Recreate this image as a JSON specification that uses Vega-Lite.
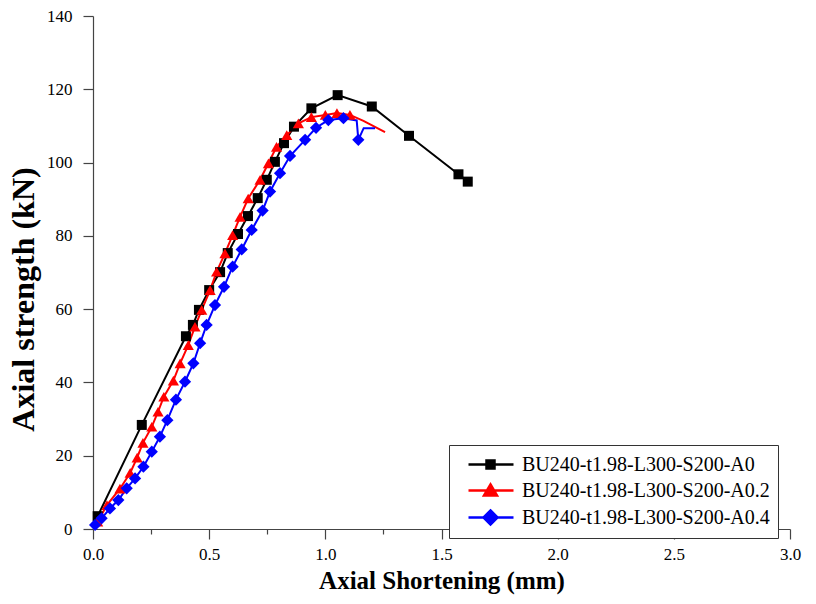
{
  "$schema": "https://vega.github.io/schema/vega-lite/v6.json",
  "width": 697,
  "height": 513,
  "autosize": "none",
  "padding": {"left": 93, "top": 16, "right": 26, "bottom": 75},
  "background": "white",
  "config": {"view": {"stroke": null}, "font": "Liberation Serif"},
  "data": {"values": [
    {"s": "BU240-t1.98-L300-S200-A0", "i": 0, "x": 0.02, "y": 3.5, "m": 1},
    {"s": "BU240-t1.98-L300-S200-A0", "i": 1, "x": 0.21, "y": 28.4, "m": 1},
    {"s": "BU240-t1.98-L300-S200-A0", "i": 2, "x": 0.40, "y": 52.6, "m": 1},
    {"s": "BU240-t1.98-L300-S200-A0", "i": 3, "x": 0.43, "y": 55.7, "m": 1},
    {"s": "BU240-t1.98-L300-S200-A0", "i": 4, "x": 0.456, "y": 59.8, "m": 1},
    {"s": "BU240-t1.98-L300-S200-A0", "i": 5, "x": 0.50, "y": 65.2, "m": 1},
    {"s": "BU240-t1.98-L300-S200-A0", "i": 6, "x": 0.547, "y": 70.1, "m": 1},
    {"s": "BU240-t1.98-L300-S200-A0", "i": 7, "x": 0.58, "y": 75.3, "m": 1},
    {"s": "BU240-t1.98-L300-S200-A0", "i": 8, "x": 0.624, "y": 80.5, "m": 1},
    {"s": "BU240-t1.98-L300-S200-A0", "i": 9, "x": 0.667, "y": 85.4, "m": 1},
    {"s": "BU240-t1.98-L300-S200-A0", "i": 10, "x": 0.709, "y": 90.3, "m": 1},
    {"s": "BU240-t1.98-L300-S200-A0", "i": 11, "x": 0.748, "y": 95.3, "m": 1},
    {"s": "BU240-t1.98-L300-S200-A0", "i": 12, "x": 0.783, "y": 100.2, "m": 1},
    {"s": "BU240-t1.98-L300-S200-A0", "i": 13, "x": 0.822, "y": 105.3, "m": 1},
    {"s": "BU240-t1.98-L300-S200-A0", "i": 14, "x": 0.865, "y": 109.8, "m": 1},
    {"s": "BU240-t1.98-L300-S200-A0", "i": 15, "x": 0.94, "y": 114.8, "m": 1},
    {"s": "BU240-t1.98-L300-S200-A0", "i": 16, "x": 1.053, "y": 118.4, "m": 1},
    {"s": "BU240-t1.98-L300-S200-A0", "i": 17, "x": 1.20, "y": 115.3, "m": 1},
    {"s": "BU240-t1.98-L300-S200-A0", "i": 18, "x": 1.36, "y": 107.3, "m": 1},
    {"s": "BU240-t1.98-L300-S200-A0", "i": 19, "x": 1.573, "y": 96.8, "m": 1},
    {"s": "BU240-t1.98-L300-S200-A0", "i": 20, "x": 1.613, "y": 94.8, "m": 1},

    {"s": "BU240-t1.98-L300-S200-A0.2", "i": 0, "x": 0.02, "y": 2.0, "m": 1},
    {"s": "BU240-t1.98-L300-S200-A0.2", "i": 1, "x": 0.06, "y": 6.5, "m": 1},
    {"s": "BU240-t1.98-L300-S200-A0.2", "i": 2, "x": 0.116, "y": 11.0, "m": 1},
    {"s": "BU240-t1.98-L300-S200-A0.2", "i": 3, "x": 0.16, "y": 15.3, "m": 1},
    {"s": "BU240-t1.98-L300-S200-A0.2", "i": 4, "x": 0.19, "y": 19.5, "m": 1},
    {"s": "BU240-t1.98-L300-S200-A0.2", "i": 5, "x": 0.215, "y": 23.5, "m": 1},
    {"s": "BU240-t1.98-L300-S200-A0.2", "i": 6, "x": 0.253, "y": 27.9, "m": 1},
    {"s": "BU240-t1.98-L300-S200-A0.2", "i": 7, "x": 0.28, "y": 32.0, "m": 1},
    {"s": "BU240-t1.98-L300-S200-A0.2", "i": 8, "x": 0.305, "y": 36.1, "m": 1},
    {"s": "BU240-t1.98-L300-S200-A0.2", "i": 9, "x": 0.346, "y": 40.5, "m": 1},
    {"s": "BU240-t1.98-L300-S200-A0.2", "i": 10, "x": 0.375, "y": 45.2, "m": 1},
    {"s": "BU240-t1.98-L300-S200-A0.2", "i": 11, "x": 0.41, "y": 50.2, "m": 1},
    {"s": "BU240-t1.98-L300-S200-A0.2", "i": 12, "x": 0.439, "y": 55.2, "m": 1},
    {"s": "BU240-t1.98-L300-S200-A0.2", "i": 13, "x": 0.468, "y": 59.8, "m": 1},
    {"s": "BU240-t1.98-L300-S200-A0.2", "i": 14, "x": 0.504, "y": 65.2, "m": 1},
    {"s": "BU240-t1.98-L300-S200-A0.2", "i": 15, "x": 0.532, "y": 70.2, "m": 1},
    {"s": "BU240-t1.98-L300-S200-A0.2", "i": 16, "x": 0.568, "y": 75.2, "m": 1},
    {"s": "BU240-t1.98-L300-S200-A0.2", "i": 17, "x": 0.601, "y": 80.2, "m": 1},
    {"s": "BU240-t1.98-L300-S200-A0.2", "i": 18, "x": 0.633, "y": 85.2, "m": 1},
    {"s": "BU240-t1.98-L300-S200-A0.2", "i": 19, "x": 0.668, "y": 90.2, "m": 1},
    {"s": "BU240-t1.98-L300-S200-A0.2", "i": 20, "x": 0.719, "y": 95.3, "m": 1},
    {"s": "BU240-t1.98-L300-S200-A0.2", "i": 21, "x": 0.755, "y": 99.8, "m": 1},
    {"s": "BU240-t1.98-L300-S200-A0.2", "i": 22, "x": 0.79, "y": 104.3, "m": 1},
    {"s": "BU240-t1.98-L300-S200-A0.2", "i": 23, "x": 0.834, "y": 107.5, "m": 1},
    {"s": "BU240-t1.98-L300-S200-A0.2", "i": 24, "x": 0.884, "y": 110.7, "m": 1},
    {"s": "BU240-t1.98-L300-S200-A0.2", "i": 25, "x": 0.94, "y": 112.4, "m": 1},
    {"s": "BU240-t1.98-L300-S200-A0.2", "i": 26, "x": 1.0, "y": 113.0, "m": 1},
    {"s": "BU240-t1.98-L300-S200-A0.2", "i": 27, "x": 1.05, "y": 113.5, "m": 1},
    {"s": "BU240-t1.98-L300-S200-A0.2", "i": 28, "x": 1.106, "y": 113.0, "m": 1},
    {"s": "BU240-t1.98-L300-S200-A0.2", "i": 29, "x": 1.164, "y": 111.4, "m": 0},
    {"s": "BU240-t1.98-L300-S200-A0.2", "i": 30, "x": 1.257, "y": 108.3, "m": 0},

    {"s": "BU240-t1.98-L300-S200-A0.4", "i": 0, "x": 0.009, "y": 1.1, "m": 1},
    {"s": "BU240-t1.98-L300-S200-A0.4", "i": 1, "x": 0.037, "y": 2.9, "m": 1},
    {"s": "BU240-t1.98-L300-S200-A0.4", "i": 2, "x": 0.073, "y": 5.6, "m": 1},
    {"s": "BU240-t1.98-L300-S200-A0.4", "i": 3, "x": 0.109, "y": 7.9, "m": 1},
    {"s": "BU240-t1.98-L300-S200-A0.4", "i": 4, "x": 0.145, "y": 11.1, "m": 1},
    {"s": "BU240-t1.98-L300-S200-A0.4", "i": 5, "x": 0.181, "y": 13.8, "m": 1},
    {"s": "BU240-t1.98-L300-S200-A0.4", "i": 6, "x": 0.217, "y": 17.0, "m": 1},
    {"s": "BU240-t1.98-L300-S200-A0.4", "i": 7, "x": 0.253, "y": 21.1, "m": 1},
    {"s": "BU240-t1.98-L300-S200-A0.4", "i": 8, "x": 0.288, "y": 25.2, "m": 1},
    {"s": "BU240-t1.98-L300-S200-A0.4", "i": 9, "x": 0.32, "y": 29.7, "m": 1},
    {"s": "BU240-t1.98-L300-S200-A0.4", "i": 10, "x": 0.357, "y": 35.3, "m": 1},
    {"s": "BU240-t1.98-L300-S200-A0.4", "i": 11, "x": 0.396, "y": 40.2, "m": 1},
    {"s": "BU240-t1.98-L300-S200-A0.4", "i": 12, "x": 0.432, "y": 45.2, "m": 1},
    {"s": "BU240-t1.98-L300-S200-A0.4", "i": 13, "x": 0.461, "y": 50.7, "m": 1},
    {"s": "BU240-t1.98-L300-S200-A0.4", "i": 14, "x": 0.489, "y": 55.7, "m": 1},
    {"s": "BU240-t1.98-L300-S200-A0.4", "i": 15, "x": 0.525, "y": 61.1, "m": 1},
    {"s": "BU240-t1.98-L300-S200-A0.4", "i": 16, "x": 0.564, "y": 66.1, "m": 1},
    {"s": "BU240-t1.98-L300-S200-A0.4", "i": 17, "x": 0.601, "y": 71.6, "m": 1},
    {"s": "BU240-t1.98-L300-S200-A0.4", "i": 18, "x": 0.64, "y": 76.3, "m": 1},
    {"s": "BU240-t1.98-L300-S200-A0.4", "i": 19, "x": 0.683, "y": 81.6, "m": 1},
    {"s": "BU240-t1.98-L300-S200-A0.4", "i": 20, "x": 0.73, "y": 86.9, "m": 1},
    {"s": "BU240-t1.98-L300-S200-A0.4", "i": 21, "x": 0.762, "y": 92.1, "m": 1},
    {"s": "BU240-t1.98-L300-S200-A0.4", "i": 22, "x": 0.805, "y": 97.1, "m": 1},
    {"s": "BU240-t1.98-L300-S200-A0.4", "i": 23, "x": 0.848, "y": 101.8, "m": 1},
    {"s": "BU240-t1.98-L300-S200-A0.4", "i": 24, "x": 0.913, "y": 106.2, "m": 1},
    {"s": "BU240-t1.98-L300-S200-A0.4", "i": 25, "x": 0.96, "y": 109.5, "m": 1},
    {"s": "BU240-t1.98-L300-S200-A0.4", "i": 26, "x": 1.013, "y": 111.6, "m": 1},
    {"s": "BU240-t1.98-L300-S200-A0.4", "i": 27, "x": 1.078, "y": 112.1, "m": 1},
    {"s": "BU240-t1.98-L300-S200-A0.4", "i": 28, "x": 1.135, "y": 111.5, "m": 0},
    {"s": "BU240-t1.98-L300-S200-A0.4", "i": 29, "x": 1.142, "y": 106.2, "m": 1},
    {"s": "BU240-t1.98-L300-S200-A0.4", "i": 30, "x": 1.165, "y": 109.4, "m": 0},
    {"s": "BU240-t1.98-L300-S200-A0.4", "i": 31, "x": 1.214, "y": 109.4, "m": 0}
  ]},
  "layer": [
    {
      "mark": {"type": "line", "strokeWidth": 2},
      "encoding": {
        "x": {
          "field": "x", "type": "quantitative",
          "scale": {"domain": [0, 3], "nice": false, "zero": false},
          "axis": {
            "values": [0, 0.25, 0.5, 0.75, 1, 1.25, 1.5, 1.75, 2, 2.25, 2.5, 2.75, 3],
            "labelExpr": "round(datum.value*4) % 2 == 0 ? format(datum.value, '.1f') : ''",
            "tickSize": {"condition": {"test": "round(datum.value*4) % 2 == 0", "value": 10}, "value": 5},
            "title": "Axial Shortening (mm)",
            "titleFont": "Liberation Serif", "titleFontSize": 25, "titleFontWeight": "bold", "titleColor": "black",
            "titlePadding": 6,
            "labelFont": "Liberation Serif", "labelFontSize": 17, "labelColor": "black", "labelPadding": 7,
            "labelFlush": false, "labelOverlap": false,
            "grid": false, "domainColor": "#444444", "tickColor": "#444444", "domainWidth": 1.2, "tickWidth": 1.2
          }
        },
        "y": {
          "field": "y", "type": "quantitative",
          "scale": {"domain": [0, 140], "nice": false},
          "axis": {
            "values": [0, 10, 20, 30, 40, 50, 60, 70, 80, 90, 100, 110, 120, 130, 140],
            "labelExpr": "datum.value % 20 == 0 ? datum.value : ''",
            "tickSize": {"condition": {"test": "datum.value % 20 == 0", "value": 10}, "value": 5},
            "title": "Axial strength (kN)",
            "titleFont": "Liberation Serif", "titleFontSize": 32, "titleFontWeight": "bold", "titleColor": "black",
            "titlePadding": 6, "titleY": 283,
            "labelFont": "Liberation Serif", "labelFontSize": 17, "labelColor": "black", "labelPadding": 11,
            "labelFlush": false, "labelOverlap": false,
            "grid": false, "domainColor": "#444444", "tickColor": "#444444", "domainWidth": 1.2, "tickWidth": 1.2
          }
        },
        "color": {
          "field": "s", "type": "nominal",
          "scale": {"domain": ["BU240-t1.98-L300-S200-A0", "BU240-t1.98-L300-S200-A0.2", "BU240-t1.98-L300-S200-A0.4"], "range": ["#000000", "#ff0000", "#0000ff"]},
          "legend": null
        },
        "order": {"field": "i", "type": "quantitative"}
      }
    },
    {
      "transform": [{"filter": "datum.m == 1"}],
      "mark": {"type": "point", "filled": true, "opacity": 1},
      "encoding": {
        "x": {"field": "x", "type": "quantitative"},
        "y": {"field": "y", "type": "quantitative"},
        "color": {"field": "s", "type": "nominal", "legend": null},
        "shape": {
          "field": "s", "type": "nominal",
          "scale": {"domain": ["BU240-t1.98-L300-S200-A0", "BU240-t1.98-L300-S200-A0.2", "BU240-t1.98-L300-S200-A0.4"], "range": ["square", "triangle-up", "diamond"]},
          "legend": null
        },
        "size": {
          "field": "s", "type": "nominal",
          "scale": {"domain": ["BU240-t1.98-L300-S200-A0", "BU240-t1.98-L300-S200-A0.2", "BU240-t1.98-L300-S200-A0.4"], "range": [100, 150, 230]},
          "legend": null
        }
      }
    },
    {
      "transform": [{"filter": "false"}],
      "mark": {"type": "point", "filled": true, "opacity": 1, "strokeWidth": 2},
      "encoding": {
        "x": {"field": "x", "type": "quantitative"},
        "y": {"field": "y", "type": "quantitative"},
        "fill": {
          "field": "s", "type": "nominal",
          "scale": {"domain": ["BU240-t1.98-L300-S200-A0", "BU240-t1.98-L300-S200-A0.2", "BU240-t1.98-L300-S200-A0.4"], "range": ["#000000", "#ff0000", "#0000ff"]},
          "legend": {
            "title": null, "orient": "none", "legendX": 356, "legendY": 429,
            "padding": 8, "rowPadding": 4, "labelOffset": 42,
            "labelFont": "Liberation Serif", "labelFontSize": 20, "labelColor": "black", "labelLimit": 0,
            "strokeColor": "#333333", "fillColor": "white",
            "symbolSize": 400, "symbolStrokeWidth": 2.5, "symbolOpacity": 1
          }
        },
        "stroke": {
          "field": "s", "type": "nominal",
          "scale": {"domain": ["BU240-t1.98-L300-S200-A0", "BU240-t1.98-L300-S200-A0.2", "BU240-t1.98-L300-S200-A0.4"], "range": ["#000000", "#ff0000", "#0000ff"]}
        },
        "shape": {
          "field": "s", "type": "nominal",
          "scale": {"domain": ["BU240-t1.98-L300-S200-A0", "BU240-t1.98-L300-S200-A0.2", "BU240-t1.98-L300-S200-A0.4"], "range": ["M0,0H4.5M1.8,-0.4H2.6V0.4H1.8Z", "M0,0H4.5M2.2,-0.6L2.85,0.5L1.55,0.5Z", "M0,0H4.5M2.2,-0.7L2.9,0L2.2,0.7L1.5,0Z"]}
        }
      }
    }
  ],
  "resolve": {"scale": {"shape": "independent", "fill": "independent", "stroke": "independent", "size": "independent"}}
}
